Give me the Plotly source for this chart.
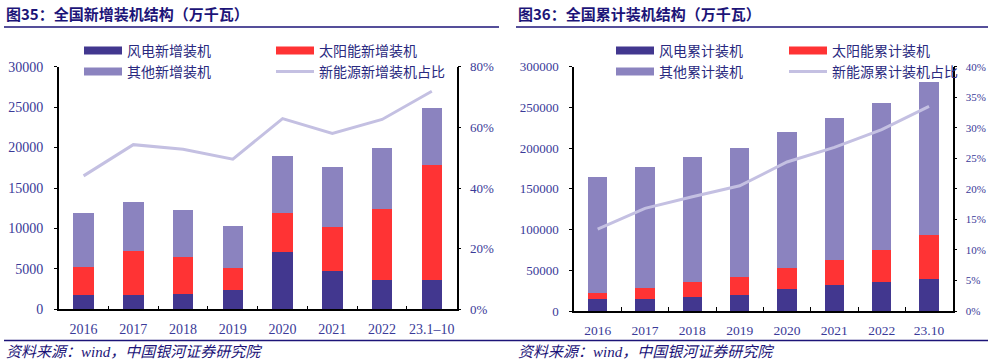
import plotly.graph_objects as go

# ---------------- data ----------------
cats_new = ["2016", "2017", "2018", "2019", "2020", "2021", "2022", "23.1–10"]
wind_new = [1770, 1770, 1930, 2430, 7090, 4700, 3660, 3660]
solar_new = [3460, 5440, 4540, 2720, 4820, 5480, 8740, 14220]
other_new = [6680, 6020, 5810, 5190, 7050, 7380, 7510, 7010]
ratio_new = [0.44, 0.543, 0.528, 0.495, 0.629, 0.58, 0.626, 0.719]

cats_cum = ["2016", "2017", "2018", "2019", "2020", "2021", "2022", "23.10"]
wind_cum = [14370, 15100, 17200, 19650, 27400, 31900, 35600, 39700]
solar_cum = [7730, 13500, 18400, 21750, 25000, 30700, 39300, 53200]
other_cum = [142450, 148200, 153500, 158750, 167000, 174800, 180500, 187900]
ratio_cum = [0.134, 0.168, 0.187, 0.205, 0.244, 0.268, 0.297, 0.335]

names_new = ["风电新增装机", "太阳能新增装机", "其他新增装机", "新能源新增装机占比"]
names_cum = ["风电累计装机", "太阳能累计装机", "其他累计装机", "新能源累计装机占比"]
title_left = "图35：全国新增装机结构（万千瓦）"
title_right = "图36：全国累计装机结构（万千瓦）"
source_text = "资料来源：wind，中国银河证券研究院"

# ---------------- style ----------------
W, H = 991, 364
C_WIND = "#42378f"
C_SOLAR = "#ff3334"
C_OTHER = "#8b83bf"
C_LINE = "#c4c0e2"
NAVY = "#1c1478"
TICK_C = "#3a3a98"
LEG_C = "#2a2a80"
SERIF = "Liberation Serif, Times New Roman, serif"
CJK = "Noto Sans CJK SC, sans-serif"


def px_x(v):
    return v / W


def px_y(v):
    return (H - v) / H


fig = go.Figure()


def add_panel(cats, wind, solar, other, ratio, names, xa, ya, ya2, legs):
    vals = [wind, solar, other]
    cols = [C_WIND, C_SOLAR, C_OTHER]
    for v, c in zip(vals, cols):
        fig.add_trace(go.Bar(x=cats, y=v, marker=dict(color=c, line=dict(width=0)),
                             width=0.41, xaxis=xa, yaxis=ya, showlegend=False,
                             hoverinfo="skip"))
    fig.add_trace(go.Scatter(x=cats, y=ratio, mode="lines", line=dict(color=C_LINE, width=3),
                             xaxis=xa, yaxis=ya2, showlegend=False, hoverinfo="skip"))
    # legend proxies
    for i, (nm, c) in enumerate(zip(names, cols + [C_LINE])):
        fig.add_trace(go.Scatter(x=[None], y=[None], mode="lines", name=nm,
                                 line=dict(color=c, width=8 if i < 3 else 3),
                                 xaxis=xa, yaxis=ya, legend=legs[i], showlegend=True))


add_panel(cats_new, wind_new, solar_new, other_new, ratio_new, names_new,
          "x", "y", "y2", ["legend", "legend2", "legend3", "legend4"])
add_panel(cats_cum, wind_cum, solar_cum, other_cum, ratio_cum, names_cum,
          "x2", "y3", "y4", ["legend5", "legend6", "legend7", "legend8"])

axis_common = dict(showline=True, linecolor="black", linewidth=1.5, showgrid=False,
                   zeroline=False, tickcolor="black", tickwidth=1.2, automargin=False)

fig.update_layout(
    width=W, height=H, margin=dict(l=0, r=0, t=0, b=0, autoexpand=False),
    plot_bgcolor="white", paper_bgcolor="white", barmode="stack",
    xaxis=dict(domain=[px_x(58.7), px_x(456.7)], anchor="y", type="category",
               ticks="inside", tickson="boundaries", ticklen=4, tickangle=0,
               tickfont=dict(family=SERIF, size=14, color=TICK_C), ticklabelstandoff=6,
               **axis_common),
    yaxis=dict(domain=[px_y(309.3), px_y(66.7)], anchor="x", range=[0, 30000], dtick=5000,
               ticks="outside", ticklen=3, tickformat="d",
               tickfont=dict(family=SERIF, size=14, color=TICK_C), ticklabelstandoff=8,
               **axis_common),
    yaxis2=dict(overlaying="y", side="right", anchor="x", range=[0, 0.8], dtick=0.2,
                tickformat=".0%", ticks="outside", ticklen=3,
                tickfont=dict(family=SERIF, size=13, color=TICK_C), ticklabelstandoff=6,
                **axis_common),
    xaxis2=dict(domain=[px_x(574), px_x(952.7)], anchor="y3", type="category",
                ticks="inside", tickson="boundaries", ticklen=4, tickangle=0,
                tickfont=dict(family=SERIF, size=13.5, color=TICK_C), ticklabelstandoff=6,
                **axis_common),
    yaxis3=dict(domain=[px_y(311), px_y(66.7)], anchor="x2", range=[0, 300000], dtick=50000,
                ticks="outside", ticklen=3, tickformat="d",
                tickfont=dict(family=SERIF, size=13, color=TICK_C), ticklabelstandoff=8,
                **axis_common),
    yaxis4=dict(overlaying="y3", side="right", anchor="x2", range=[0, 0.4], dtick=0.05,
                tickformat=".0%", ticks="outside", ticklen=3,
                tickfont=dict(family=SERIF, size=11, color=TICK_C), ticklabelstandoff=6,
                **axis_common),
)

leg_font = dict(family=CJK, size=14, color=LEG_C)
leg_pos = {
    "legend": (79, 51), "legend2": (271, 51), "legend3": (79, 72), "legend4": (271, 72),
    "legend5": (611, 51), "legend6": (784, 51), "legend7": (611, 72), "legend8": (784, 72),
}
for k, (lx, ly) in leg_pos.items():
    fig.update_layout({k: dict(x=px_x(lx), y=px_y(ly), xanchor="left", yanchor="middle",
                               bgcolor="rgba(0,0,0,0)", borderwidth=0, font=leg_font,
                               itemwidth=38)})

# titles, rules, source
for tx, txt in [(4, title_left), (516, title_right)]:
    fig.add_annotation(x=px_x(tx), y=px_y(14), xref="paper", yref="paper", text=txt,
                       showarrow=False, xanchor="left", yanchor="middle",
                       font=dict(family=CJK, size=15, color=NAVY, weight="bold"))
    fig.add_annotation(x=px_x(tx), y=px_y(352), xref="paper", yref="paper", text=source_text,
                       showarrow=False, xanchor="left", yanchor="middle",
                       font=dict(family=SERIF + ", " + CJK, size=15, color=NAVY, style="italic"))

fig.add_shape(type="line", xref="paper", yref="paper", x0=px_x(4), x1=px_x(499),
              y0=px_y(27), y1=px_y(27), line=dict(color=NAVY, width=1.5))
fig.add_shape(type="line", xref="paper", yref="paper", x0=px_x(516), x1=px_x(988),
              y0=px_y(27), y1=px_y(27), line=dict(color=NAVY, width=1.5))
fig.add_shape(type="line", xref="paper", yref="paper", x0=px_x(4), x1=px_x(988),
              y0=px_y(340.5), y1=px_y(340.5), line=dict(color=NAVY, width=1.5))

fig.write_html("out.html", config={"displayModeBar": False},
               post_script="document.body.style.margin='0';document.body.style.overflow='hidden';")
